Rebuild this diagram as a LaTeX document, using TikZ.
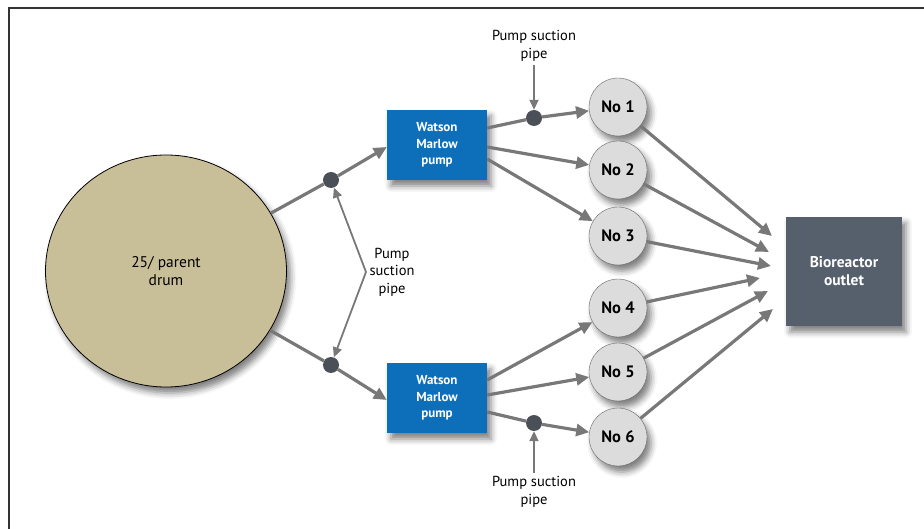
\documentclass[tikz,border=0pt]{standalone}
\usepackage{fontspec}
\setmainfont{PT Sans}
\usetikzlibrary{arrows.meta,positioning,shapes.geometric,calc,shadows.blur}
\definecolor{drumtan}{HTML}{C8BE98}
\definecolor{pumpblue}{HTML}{0D6EB9}
\definecolor{outletslate}{HTML}{56606C}
\definecolor{pipegray}{HTML}{787878}
\definecolor{dotgray}{HTML}{4B5058}
\definecolor{vesselgray}{HTML}{DCDCDC}

\begin{document}
\begin{tikzpicture}[x=1pt,y=-1pt,
  pipe/.style={draw=pipegray,line width=3.2pt},
  flow/.style={pipe,-{Triangle[length=13pt,width=12pt]}},
  pointer/.style={draw=pipegray,line width=1.8pt,-{Triangle[length=10pt,width=9pt]}},
  soft/.style={blur shadow={shadow xshift=4pt,shadow yshift=-6pt,shadow blur radius=6pt,shadow opacity=50}},
  junction/.style={circle,fill=dotgray,minimum size=16pt,inner sep=0pt},
  pumpbox/.style={rectangle,fill=pumpblue,minimum width=100pt,minimum height=70pt,
    text=white,align=center,font=\fontsize{13}{16.5}\selectfont\bfseries,soft},
  vessel/.style={circle,draw=black!60,fill=vesselgray,minimum size=58pt,inner sep=0pt,
    font=\fontsize{16.5}{18}\selectfont\bfseries,soft},
  caption/.style={align=center,font=\fontsize{14.5}{17.5}\selectfont}]

  \useasboundingbox (0,0) rectangle (924,529);
  % frame
  \draw[line width=2pt,black!80] (9,529) -- (9,8) -- (924,8);

  % ---- Drum and pumps ----------------------------------------
  \node[ellipse,draw=black,thick,fill=drumtan,minimum width=241pt,minimum height=232pt,
    align=center,font=\fontsize{15.5}{18}\selectfont,soft] (drum) at (166,271)
    {25/ parent\\drum};
  \node[pumpbox] (wm1) at (437,145) {Watson\\Marlow\\pump};
  \node[pumpbox] (wm2) at (437,398) {Watson\\Marlow\\pump};

  % ---- Vessels and outlet ------------------------------------
  \foreach \i/\y in {1/107,2/170,3/236,4/308,5/372,6/437}
    \node[vessel] (n\i) at (618,\y) {No \i};
  \node[rectangle,fill=outletslate,minimum width=116pt,minimum height=109pt,text=white,
    align=center,font=\fontsize{15.5}{18}\selectfont\bfseries,soft] (bio) at (844,271.5)
    {Bioreactor\\outlet};
  % arrow ends in front of the outlet
  \coordinate (t1) at (772,236);
  \coordinate (t2) at (769,252);
  \coordinate (t3) at (771,266);
  \coordinate (t4) at (760,278);
  \coordinate (t5) at (768,291);
  \coordinate (t6) at (773,309);

  % ---- Junctions ---------------------------------------------
  \node[junction] (j1) at (331,180) {};
  \node[junction] (j2) at (331,365) {};
  \node[junction] (j3) at (534,118) {};
  \node[junction] (j4) at (534,423) {};

  % ---- Pipes -------------------------------------------------
  \draw[pipe] (drum) -- (j1);
  \draw[pipe] (drum) -- (j2);
  \draw[flow] (j1) -- ($(wm1.west)+(0,2)$);
  \draw[flow] (j2) -- ($(wm2.west)+(0,2)$);
  % upper pump
  \draw[pipe] ($(wm1.east)+(0,-17)$) -- (j3);
  \draw[flow] (j3) -- (n1);
  \draw[flow] ($(wm1.east)+(0,2)$) -- (n2);
  \draw[flow] ($(wm1.east)+(0,14)$) -- (n3);
  % lower pump
  \draw[flow] ($(wm2.east)+(0,-18)$) -- (n4);
  \draw[flow] ($(wm2.east)+(0,-3)$) -- (n5);
  \draw[pipe] ($(wm2.east)+(0,14)$) -- (j4);
  \draw[flow] (j4) -- (n6);
  % into the outlet
  \foreach \i in {1,...,6}
    \draw[flow] (n\i) -- (t\i);

  % ---- Suction pipe labels -----------------------------------
  \node[caption] (lab1) at (534,46) {Pump suction\\pipe};
  \node[caption] (lab2) at (392,272) {Pump\\suction\\pipe};
  \node[caption] (lab3) at (534,492) {Pump suction\\pipe};
  \draw[pointer] (lab1) -- (j3);
  \draw[pointer] (lab2.west) -- (j1);
  \draw[pointer] (lab2.west) -- (j2);
  \draw[pointer] (lab3) -- (j4);

\end{tikzpicture}
\end{document}
